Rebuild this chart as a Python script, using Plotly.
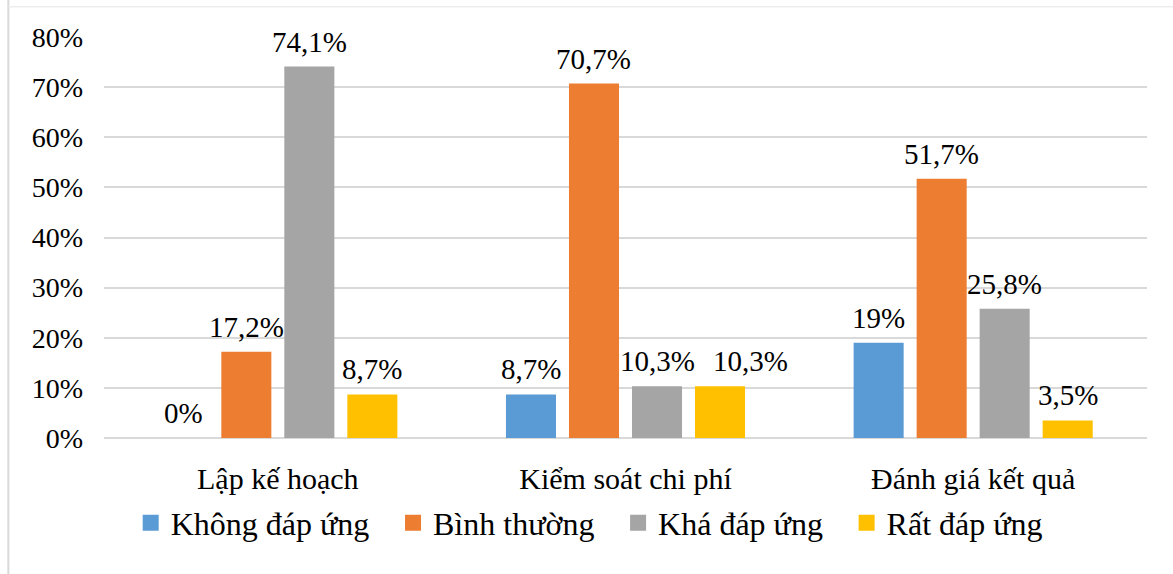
import plotly.graph_objects as go

# Survey results by activity (percent of respondents)
categories = ["Lập kế hoạch", "Kiểm soát chi phí", "Đánh giá kết quả"]
series_names = ["Không đáp ứng", "Bình thường", "Khá đáp ứng", "Rất đáp ứng"]
khong_dap_ung = [0, 8.7, 19]
binh_thuong = [17.2, 70.7, 51.7]
kha_dap_ung = [74.1, 10.3, 25.8]
rat_dap_ung = [8.7, 10.3, 3.5]
series_values = [khong_dap_ung, binh_thuong, kha_dap_ung, rat_dap_ung]
colors = ["#5B9BD5", "#ED7D31", "#A5A5A5", "#FFC000"]
y_ticks = [0, 10, 20, 30, 40, 50, 60, 70, 80]
y_tick_labels = [f"{v}%" for v in y_ticks]

FONT = "Liberation Serif"
BARGAP = 0.275
BARGROUPGAP = 0.206
# extra horizontal nudge (px) for labels that would collide with a neighbour
LABEL_NUDGE = {(3, 1): 30}
# trailing room after each legend entry
LEGEND_PAD = "\u00a0\u00a0\u200a"


def fmt(v):
    s = f"{v:.1f}".replace(".", ",")
    if s.endswith(",0"):
        s = s[:-2]
    return s + "%"


fig = go.Figure()
for k, (name, vals, col) in enumerate(zip(series_names, series_values, colors)):
    fig.add_trace(go.Bar(
        x=categories, y=vals, name=name, marker_color=col,
        marker_line_width=0, showlegend=False, hoverinfo="skip",
    ))
    # legend entry drawn as a square marker
    label = name + (LEGEND_PAD if k < len(series_names) - 1 else "")
    fig.add_trace(go.Scatter(
        x=[None], y=[None], mode="markers", name=label,
        marker=dict(symbol="square", size=17, color=col),
        showlegend=True,
    ))

# value labels above each bar, centred on the bar's slot in the group
n = len(series_names)
slot = (1 - BARGAP) / n
for i, vals in enumerate(series_values):
    offset = (i - (n - 1) / 2) * slot
    for j, v in enumerate(vals):
        fig.add_annotation(
            x=j + offset, y=v, xref="x", yref="y",
            text=fmt(v), showarrow=False, yanchor="bottom", yshift=7,
            xshift=LABEL_NUDGE.get((i, j), 0),
            font=dict(family=FONT, size=29, color="#000000"),
        )

fig.update_layout(
    width=1173, height=574,
    margin=dict(l=104, r=26, t=37, b=136),
    paper_bgcolor="white", plot_bgcolor="white",
    barmode="group", bargap=BARGAP, bargroupgap=BARGROUPGAP,
    font=dict(family=FONT, color="#000000"),
    showlegend=True,
    legend=dict(
        orientation="h", x=0.0256, xanchor="left", y=-0.143, yanchor="top",
        font=dict(family=FONT, size=32, color="#000000"),
        itemsizing="trace", traceorder="normal",
    ),
    shapes=[
        dict(type="line", xref="paper", yref="paper",
             x0=-0.0917, x1=-0.0917, y0=1.095, y1=-0.35,
             line=dict(color="#D9D9D9", width=2)),
        dict(type="line", xref="paper", yref="paper",
             x0=-0.0917, x1=1.05, y0=1.0755, y1=1.0755,
             line=dict(color="#EDEDED", width=1.5)),
    ],
)
fig.update_xaxes(
    type="category", showgrid=False, showline=False, zeroline=False,
    tickfont=dict(family=FONT, size=30, color="#000000"),
    ticklabelstandoff=20,
)
fig.update_yaxes(
    range=[0, 80], tickmode="array", tickvals=y_ticks, ticktext=y_tick_labels,
    showgrid=True, gridcolor="#D9D9D9", gridwidth=2,
    zeroline=True, zerolinecolor="#D9D9D9", zerolinewidth=2,
    showline=False,
    tickfont=dict(family=FONT, size=28, color="#000000"),
    ticklabelstandoff=20,
)

fig.write_html("out.html")
